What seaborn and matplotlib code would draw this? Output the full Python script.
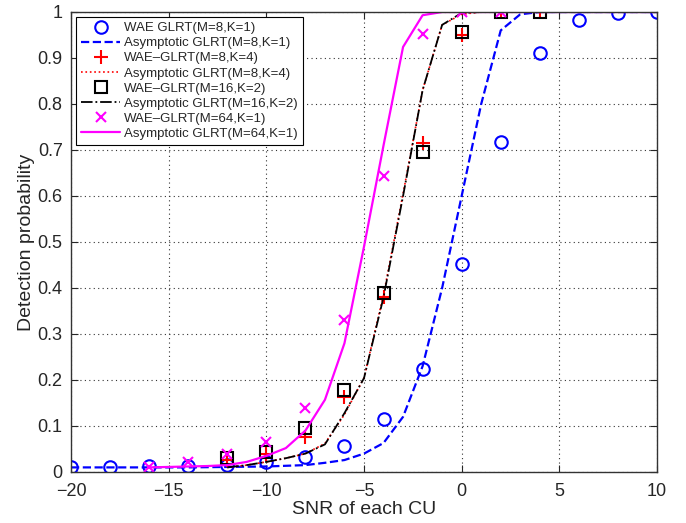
import numpy as np
import pandas as pd
import matplotlib
matplotlib.use("Agg")
import matplotlib.pyplot as plt
import seaborn as sns

# ---- data ----
snr_wae1 = [-20, -18, -16, -14, -12, -10, -8, -6, -4, -2, 0, 2, 4, 6, 8, 10]
pd_wae1 = [0.01, 0.01, 0.012, 0.012, 0.015, 0.022, 0.033, 0.056, 0.115, 0.225, 0.452, 0.717, 0.91, 0.983, 0.998, 1.0]

snr_asy1 = [-20, -18, -16, -14, -12, -10, -8, -7, -6, -5, -4, -3, -2, -1, 0, 1, 2, 3, 4, 5, 6, 7, 8, 9, 10]
pd_asy1 = [0.01, 0.01, 0.01, 0.01, 0.011, 0.012, 0.015, 0.02, 0.026, 0.04, 0.063, 0.12, 0.23, 0.40, 0.60, 0.80, 0.96, 0.995, 1.0, 1.0, 1.0, 1.0, 1.0, 1.0, 1.0]

snr_wae4 = [-12, -10, -8, -6, -4, -2, 0, 2, 4]
pd_wae4 = [0.026, 0.039, 0.077, 0.163, 0.38, 0.715, 0.95, 1.0, 1.0]

snr_asy4 = [-12, -11, -10, -9, -8, -7, -6, -5, -4, -3, -2, -1, 0, 1, 2, 3, 4, 5, 6, 7, 8, 9, 10]
pd_asy4 = [0.01, 0.015, 0.022, 0.03, 0.04, 0.062, 0.125, 0.205, 0.385, 0.605, 0.83, 0.972, 0.995, 1.0, 1.0, 1.0, 1.0, 1.0, 1.0, 1.0, 1.0, 1.0, 1.0]

snr_wae16 = [-12, -10, -8, -6, -4, -2, 0, 2, 4]
pd_wae16 = [0.03, 0.043, 0.096, 0.178, 0.39, 0.696, 0.956, 1.0, 1.0]

snr_asy16 = [-12, -11, -10, -9, -8, -7, -6, -5, -4, -3, -2, -1, 0, 1, 2, 3, 4, 5, 6, 7, 8, 9, 10]
pd_asy16 = [0.01, 0.015, 0.022, 0.03, 0.04, 0.06, 0.128, 0.204, 0.38, 0.60, 0.83, 0.972, 0.998, 1.0, 1.0, 1.0, 1.0, 1.0, 1.0, 1.0, 1.0, 1.0, 1.0]

snr_wae64 = [-16, -14, -12, -10, -8, -6, -4, -2, 0, 2]
pd_wae64 = [0.01, 0.022, 0.039, 0.065, 0.14, 0.33, 0.644, 0.952, 1.0, 1.0]

snr_asy64 = [-16, -15, -14, -13, -12, -11, -10, -9, -8, -7, -6, -5, -4, -3, -2, -1, 0, 1, 2, 3, 4, 5, 6, 7, 8, 9, 10]
pd_asy64 = [0.01, 0.011, 0.012, 0.013, 0.015, 0.022, 0.035, 0.052, 0.09, 0.157, 0.28, 0.49, 0.71, 0.924, 0.993, 1.0, 1.0, 1.0, 1.0, 1.0, 1.0, 1.0, 1.0, 1.0, 1.0, 1.0, 1.0]

labels = ["WAE GLRT(M=8,K=1)", "Asymptotic GLRT(M=8,K=1)",
          "WAE\u2013GLRT(M=8,K=4)", "Asymptotic GLRT(M=8,K=4)",
          "WAE\u2013GLRT(M=16,K=2)", "Asymptotic GLRT(M=16,K=2)",
          "WAE\u2013GLRT(M=64,K=1)", "Asymptotic GLRT(M=64,K=1)"]
x_ticks = [-20, -15, -10, -5, 0, 5, 10]
y_ticks = [0, 0.1, 0.2, 0.3, 0.4, 0.5, 0.6, 0.7, 0.8, 0.9, 1]
y_ticklabels = ["0", "0.1", "0.2", "0.3", "0.4", "0.5", "0.6", "0.7", "0.8", "0.9", "1"]

sns.set_style("ticks")
plt.rcParams['font.family'] = ['Liberation Sans', 'DejaVu Sans']
plt.rcParams['xtick.direction'] = 'in'
plt.rcParams['ytick.direction'] = 'in'

fig = plt.figure(figsize=(6.86, 5.23), dpi=100)
ax = fig.add_axes([71 / 686, 1 - 472 / 523, (657 - 71) / 686, (472 - 12) / 523])

mk = dict(linestyle='none', markerfacecolor='none', markeredgewidth=1.5)

sns.lineplot(x=snr_wae1, y=pd_wae1, ax=ax, marker='o', color='#0000ff',
             markeredgecolor='#0000ff', markersize=9, label=labels[0], **mk)
sns.lineplot(x=snr_asy1, y=pd_asy1, ax=ax, color='#0000ff', linestyle='--',
             linewidth=1.6, dashes=(5, 4), label=labels[1])
sns.lineplot(x=snr_wae4, y=pd_wae4, ax=ax, marker='+', color='#ff0000',
             markeredgecolor='#ff0000', markersize=10, label=labels[2], **mk)
sns.lineplot(x=snr_asy4, y=pd_asy4, ax=ax, color='#ff0000', linestyle=':',
             linewidth=1.2, label=labels[3])
sns.lineplot(x=snr_wae16, y=pd_wae16, ax=ax, marker='s', color='black',
             markeredgecolor='black', markersize=8, label=labels[4], **mk)
sns.lineplot(x=snr_asy16, y=pd_asy16, ax=ax, color='black', linestyle='-.',
             linewidth=1.3, dashes=(6, 3, 1.5, 3), label=labels[5])
sns.lineplot(x=snr_wae64, y=pd_wae64, ax=ax, marker='x', color='#ff00ff',
             markeredgecolor='#ff00ff', markersize=7, label=labels[6], **mk)
sns.lineplot(x=snr_asy64, y=pd_asy64, ax=ax, color='#ff00ff', linestyle='-',
             linewidth=1.6, label=labels[7])

ax.set_xlim(-20, 10)
ax.set_ylim(0, 1)
ax.set_xticks(x_ticks)
ax.set_xticklabels([str(t).replace('-', '\u2212') for t in x_ticks], fontsize=13)
ax.set_yticks(y_ticks)
ax.set_yticklabels(y_ticklabels, fontsize=13)
ax.grid(True, linestyle=(0, (1, 3)), color='#333333', linewidth=0.8)
ax.tick_params(axis='both', which='both', top=True, right=True, length=5, width=0.8)
ax.tick_params(axis='x', pad=8)
ax.tick_params(axis='y', pad=6)
for s in ax.spines.values():
    s.set_linewidth(1.0)
    s.set_color('#333333')
ax.set_xlabel("SNR of each CU", fontsize=14, labelpad=1)
ax.set_ylabel("Detection probability", fontsize=14, labelpad=2)

leg = ax.legend(loc='upper left', fontsize=9.5, frameon=True, fancybox=False,
                edgecolor='black', framealpha=1, borderpad=0.35, labelspacing=0.22,
                handlelength=3.0, handletextpad=0.3, borderaxespad=0.4)
leg.get_frame().set_linewidth(0.8)

fig.savefig("out.png", dpi=100)
